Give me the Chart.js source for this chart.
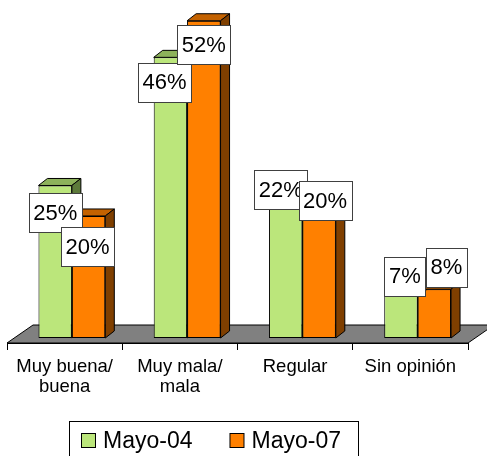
<!DOCTYPE html>
<html lang="es">
<head>
  <meta charset="UTF-8" />
  <title>Mayo-04 / Mayo-07</title>
  <style>
    html, body { margin: 0; padding: 0; background: #fff; }
  </style>
</head>
<body>
  <canvas id="myChart" width="487" height="456"></canvas>
  <script src="https://cdn.jsdelivr.net/npm/chart.js@4.4.1/dist/chart.umd.min.js"></script>
  <script>
    const categories = [["Muy buena/", "buena"], ["Muy mala/", "mala"], "Regular", "Sin opinión"];
    const seriesNames = ["Mayo-04", "Mayo-07"];
    const mayo04 = [25, 46, 22, 7];
    const mayo07 = [20, 52, 20, 8];

    const FONT = '"Liberation Sans", Arial, sans-serif';
    const faces = [
      { front: "#bbe67b", top: "#8db25b", side: "#5d7a3b" },
      { front: "#ff8000", top: "#c46200", side: "#7f3f00" }
    ];
    const depth = { dx: 9, dy: -7 };
    const floorDepth = { dx: 26, dy: -18 };
    const shift = 0.063; // bars sit a bit right of the category centre (3d look)

    // where each value box sits, relative to the top centre of its bar
    const labelOffsets = [
      [[0, 27], [-6, 25], [-5, -14], [4, -19]],
      [[-1, 31], [0, 24], [6, -15], [12, -22]]
    ];

    const poly = (ctx, pts, fill) => {
      ctx.beginPath();
      ctx.moveTo(pts[0][0], pts[0][1]);
      for (let i = 1; i < pts.length; i++) ctx.lineTo(pts[i][0], pts[i][1]);
      ctx.closePath();
      ctx.fillStyle = fill;
      ctx.fill();
      ctx.stroke();
    };

    const floorPlugin = {
      id: "floor",
      beforeDatasetsDraw(chart) {
        const { ctx, chartArea: a } = chart;
        ctx.save();
        ctx.strokeStyle = "#000";
        ctx.lineWidth = 1;
        poly(ctx, [
          [a.left, a.bottom],
          [a.right, a.bottom],
          [a.right + floorDepth.dx, a.bottom + floorDepth.dy],
          [a.left + floorDepth.dx, a.bottom + floorDepth.dy]
        ], "#808080");
        ctx.restore();
      }
    };

    // top and side faces; the second series is drawn again over the first
    // so the green side faces end up behind the orange fronts
    const boxesPlugin = {
      id: "boxes3d",
      afterDatasetsDraw(chart) {
        const ctx = chart.ctx;
        [0, 1].forEach((d) => {
          const f = faces[d];
          chart.getDatasetMeta(d).data.forEach((bar) => {
            if (d > 0) bar.draw(ctx);
            const { x, y, base, width } = bar.getProps(["x", "y", "base", "width"], true);
            const l = x - width / 2, r = x + width / 2;
            ctx.save();
            ctx.strokeStyle = "#000";
            ctx.lineWidth = 1;
            poly(ctx, [[l, y], [r, y], [r + depth.dx, y + depth.dy], [l + depth.dx, y + depth.dy]], f.top);
            poly(ctx, [[r, y], [r + depth.dx, y + depth.dy], [r + depth.dx, base + depth.dy], [r, base]], f.side);
            ctx.restore();
          });
        });
      }
    };

    const valueLabels = {
      id: "valueLabels",
      afterDraw(chart) {
        const ctx = chart.ctx;
        ctx.save();
        ctx.font = "22px " + FONT;
        ctx.textAlign = "center";
        ctx.textBaseline = "middle";
        [0, 1].forEach((d) => {
          const meta = chart.getDatasetMeta(d);
          meta.data.forEach((bar, i) => {
            const { x, y } = bar.getProps(["x", "y"], true);
            const txt = chart.data.datasets[d].data[i].y + "%";
            const w = Math.round(ctx.measureText(txt).width + 9);
            const h = 39;
            const cx = x + labelOffsets[d][i][0];
            const cy = y + labelOffsets[d][i][1];
            const bx = Math.round(cx - w / 2) + 0.5;
            const by = Math.round(cy - h / 2) + 0.5;
            ctx.fillStyle = "#fff";
            ctx.fillRect(bx, by, w, h);
            ctx.strokeStyle = "#404040";
            ctx.lineWidth = 1;
            ctx.strokeRect(bx, by, w, h);
            ctx.fillStyle = "#000";
            ctx.fillText(txt, cx, cy + 1);
          });
        });
        ctx.restore();
      }
    };

    const boxedLegend = {
      id: "boxedLegend",
      afterDraw(chart) {
        const ctx = chart.ctx;
        const startX = 81, sqY = 433, sq = 14;
        ctx.save();
        ctx.font = "23px " + FONT;
        ctx.textBaseline = "alphabetic";
        let x = startX;
        const items = chart.data.datasets.map((ds, i) => {
          const tw = ctx.measureText(ds.label).width;
          const it = { x, label: ds.label, color: faces[i].front };
          x += sq + 8 + tw + 37;
          return it;
        });
        const right = Math.round(x - 37 + 17) + 0.5;
        ctx.fillStyle = "#fff";
        ctx.strokeStyle = "#000";
        ctx.lineWidth = 1;
        ctx.fillRect(startX - 11.5, 421.5, right - startX + 11.5, 40);
        ctx.strokeRect(startX - 11.5, 421.5, right - startX + 11.5, 40);
        items.forEach((it) => {
          ctx.fillStyle = it.color;
          ctx.fillRect(it.x + 0.5, sqY + 0.5, sq, sq);
          ctx.strokeRect(it.x + 0.5, sqY + 0.5, sq, sq);
          ctx.fillStyle = "#000";
          ctx.fillText(it.label, it.x + sq + 8, 448);
        });
        ctx.restore();
      }
    };

    new Chart(document.getElementById("myChart"), {
      type: "bar",
      data: {
        labels: categories,
        datasets: [
          {
            label: seriesNames[0],
            data: mayo04.map((v, i) => ({ x: i, y: v })),
            backgroundColor: faces[0].front,
            borderColor: "#000",
            borderWidth: 1,
            borderSkipped: false,
            xAxisID: "xb"
          },
          {
            label: seriesNames[1],
            data: mayo07.map((v, i) => ({ x: i, y: v })),
            backgroundColor: faces[1].front,
            borderColor: "#000",
            borderWidth: 1,
            borderSkipped: false,
            xAxisID: "xb"
          }
        ]
      },
      options: {
        responsive: false,
        animation: false,
        categoryPercentage: 0.58,
        barPercentage: 1,
        layout: { padding: { left: 7, right: 19, top: 0, bottom: 52 } },
        plugins: {
          legend: { display: false },
          tooltip: { enabled: false }
        },
        scales: {
          x: {
            type: "category",
            offset: true,
            grid: {
              offset: true,
              drawOnChartArea: false,
              drawTicks: true,
              tickLength: 7,
              color: "#000"
            },
            border: { display: true, color: "#000" },
            ticks: {
              color: "#000",
              padding: 7,
              maxRotation: 0,
              autoSkip: false,
              font: { family: FONT, size: 18.5, lineHeight: 20 / 18.5 }
            }
          },
          xb: {
            type: "linear",
            display: false,
            offset: false,
            min: -0.5 - shift,
            max: 3.5 - shift,
            ticks: { stepSize: 1, includeBounds: false }
          },
          y: {
            type: "linear",
            display: false,
            min: -0.82,
            max: 55.4
          }
        }
      },
      plugins: [floorPlugin, boxesPlugin, valueLabels, boxedLegend]
    });
  </script>
</body>
</html>
